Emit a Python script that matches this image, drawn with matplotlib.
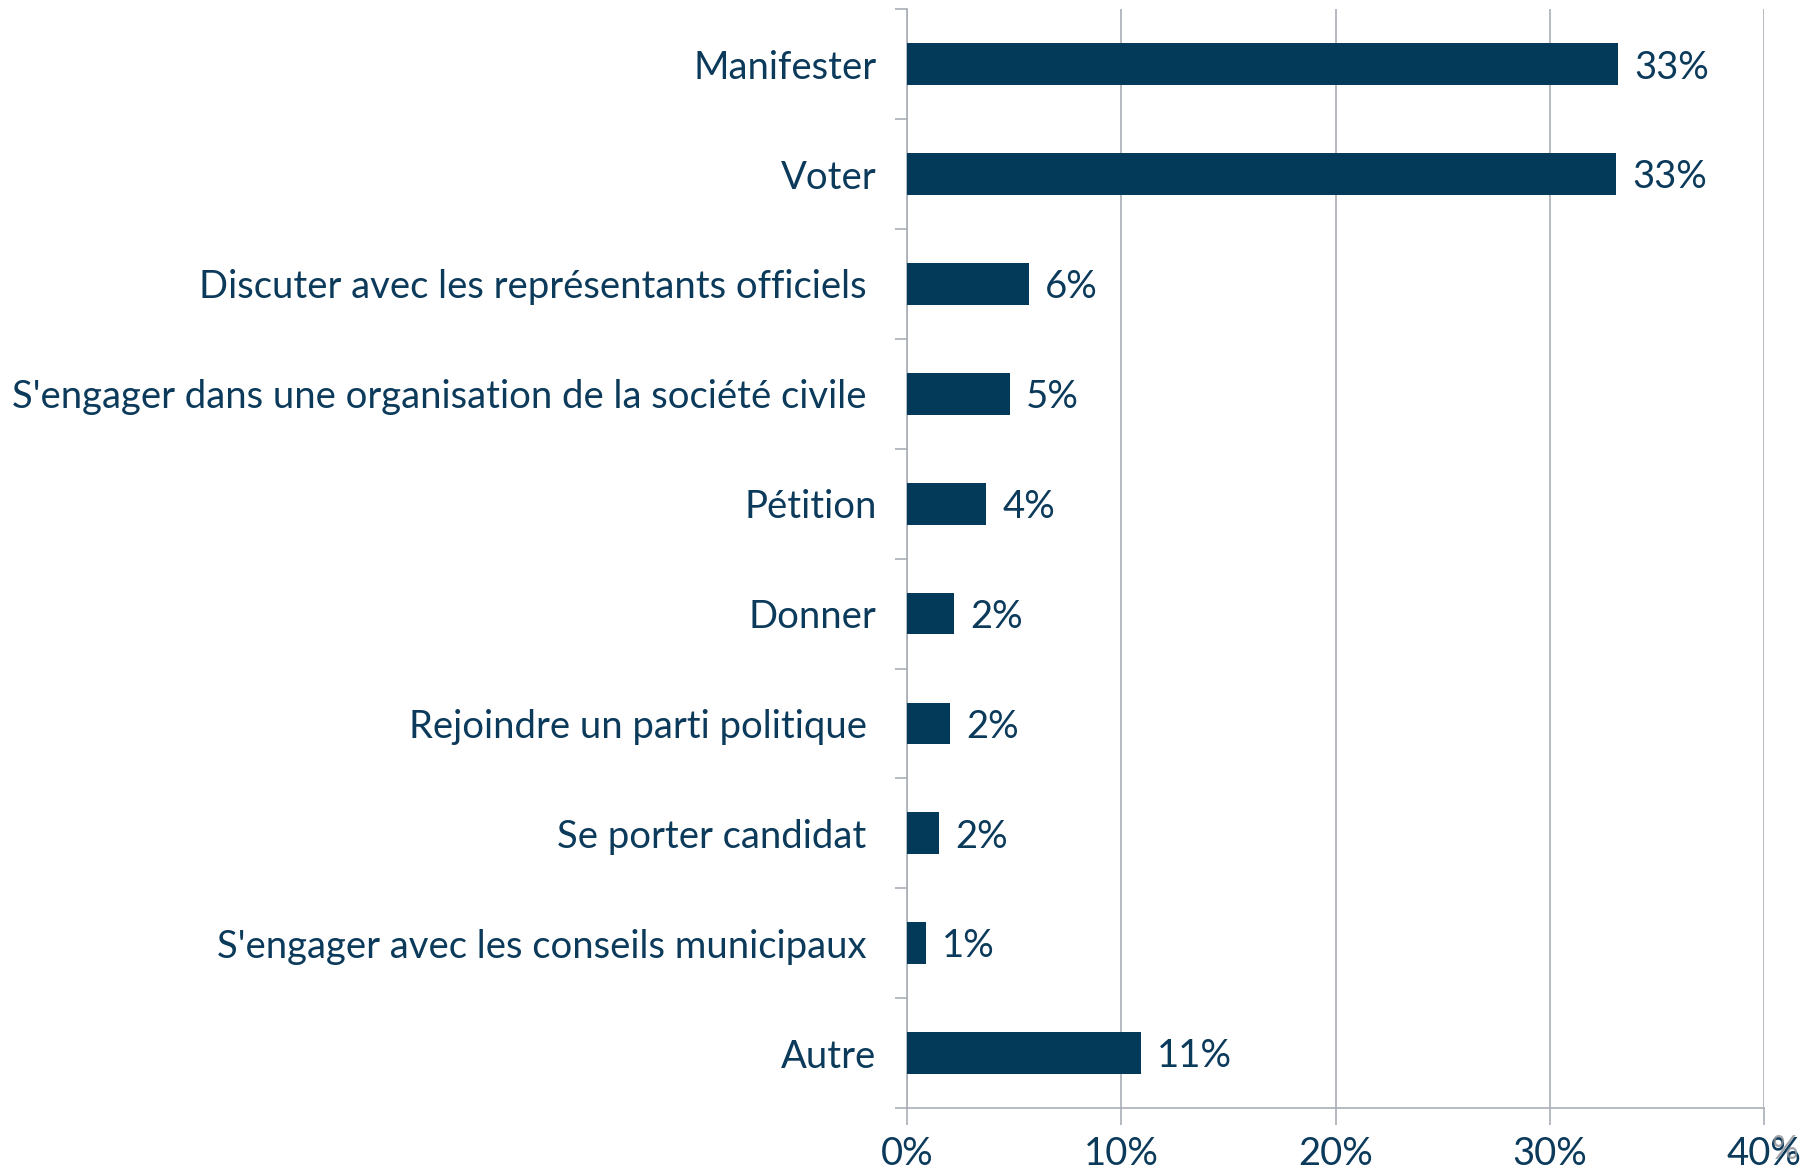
import matplotlib.pyplot as plt
from matplotlib.ticker import FixedLocator

# data
actions = ['Manifester', 'Voter', 'Discuter avec les représentants officiels ',
           "S'engager dans une organisation de la société civile ", 'Pétition',
           'Donner', 'Rejoindre un parti politique ', 'Se porter candidat ',
           "S'engager avec les conseils municipaux ", 'Autre']
shares = [33.2, 33.1, 5.7, 4.8, 3.7, 2.2, 2.0, 1.5, 0.9, 10.9]
share_labels = ['33%', '33%', '6%', '5%', '4%', '2%', '2%', '2%', '1%', '11%']
x_ticks = [0, 10, 20, 30, 40]
x_tick_labels = ['0%', '10%', '20%', '30%', '40%']

bar_col = '#033a5a'
txt_col = '#0b3a5b'
grey = '#a9aeb6'
fs = 27.5

plt.rcParams['font.family'] = ['Lato', 'DejaVu Sans']

fig = plt.figure(figsize=(18.19, 11.67), dpi=100)
ax = fig.add_axes([0.4986, 0.0506, 0.4712, 0.9414])

pos = list(range(len(actions)))
ax.barh(pos, shares, height=0.38, color=bar_col, zorder=3)

for p, v, lab in zip(pos, shares, share_labels):
    ax.text(v + 0.75, p + 0.03, lab, va='center', ha='left', fontsize=fs, color=txt_col)

ax.set_xlim(0, 40)
ax.set_ylim(len(actions) - 0.5, -0.5)

ax.set_yticks(pos)
ax.set_yticklabels(actions, fontsize=fs, color=txt_col)
ax.tick_params(axis='y', which='major', length=0, pad=22)
ax.yaxis.set_minor_locator(FixedLocator([i - 0.5 for i in range(len(actions) + 1)]))
ax.tick_params(axis='y', which='minor', length=9, color=grey, width=1.2)

ax.set_xticks(x_ticks)
ax.set_xticklabels(x_tick_labels, fontsize=fs, color=txt_col)
ax.tick_params(axis='x', length=12, color=grey, width=1.2, pad=8)

ax.grid(axis='x', color=grey, linewidth=1.2, zorder=0)
for s in ['top', 'right']:
    ax.spines[s].set_visible(False)
for s in ['left', 'bottom']:
    ax.spines[s].set_color(grey)
    ax.spines[s].set_linewidth(1.2)

# stray grey percent sign overlapping the last tick label
fig.text(1785 / 1819, 1 - 1150 / 1167, '%', fontsize=24, color='#8a8f96',
         ha='center', va='center', alpha=0.8)

fig.savefig('out.png', dpi=100)
